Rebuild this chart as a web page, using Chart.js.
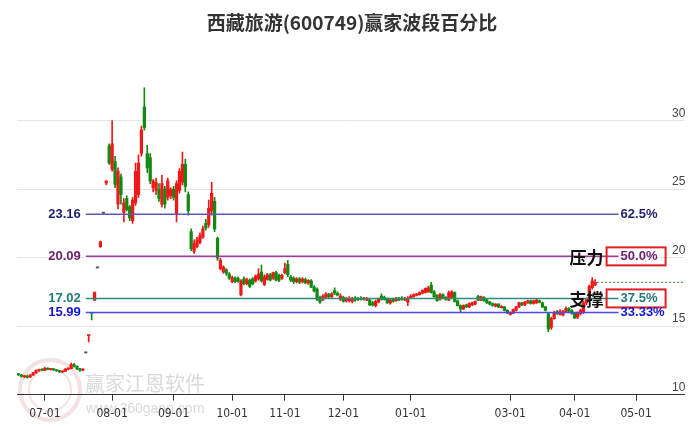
<!DOCTYPE html>
<html>
<head>
<meta charset="utf-8">
<script src="https://cdn.jsdelivr.net/npm/chart.js@4.4.1/dist/chart.umd.min.js"></script>
<style>
  html, body { margin: 0; padding: 0; background: #fff; }
  #wrap { width: 689px; height: 427px; }
</style>
</head>
<body>
<div id="wrap"><canvas id="chart" width="689" height="427"></canvas></div>
<script>
// daily candles (one per trading day)
const opens = [
  11.50, 11.42, 11.30, 11.36, 11.28, 11.42, 11.60, 11.76, 11.80, 11.78,
  11.92, 11.84, 11.86, 11.80, 11.74, 11.66, 11.70, 11.86, 11.90, 12.20,
  12.06, 11.88, 11.78, 13.05, 14.30, 15.98, 16.90, 19.25, 20.80, 23.25,
  25.45, 28.15, 26.45, 27.00, 23.90, 25.90, 23.30, 24.30, 23.70, 22.70,
  24.00, 24.60, 27.60, 31.00, 27.60, 27.30, 25.10, 24.90, 25.00, 23.90,
  25.00, 24.40, 24.50, 25.00, 23.20, 24.90, 25.50, 26.80, 24.60, 21.90,
  20.45, 20.80, 21.10, 21.50, 22.50, 22.40, 23.40, 24.10, 21.40, 19.20,
  18.95, 19.10, 18.80, 18.25, 18.50, 18.50, 17.30, 18.45, 18.10, 18.35,
  18.45, 18.30, 18.45, 18.95, 18.05, 18.40, 18.75, 18.50, 18.90, 18.70,
  18.50, 18.90, 19.50, 18.60, 18.50, 18.25, 18.45, 18.25, 18.40, 18.15,
  18.30, 17.85, 17.70, 17.10, 16.95, 17.10, 17.30, 17.15, 17.60, 17.40,
  16.95, 17.10, 16.85, 16.85, 16.80, 17.05, 17.00, 17.05, 16.95, 16.90,
  16.90, 16.70, 16.50, 16.75, 17.20, 17.10, 16.95, 16.70, 16.95, 16.85,
  17.05, 17.05, 16.90, 16.75, 17.05, 17.15, 17.25, 17.30, 17.40, 17.45,
  17.50, 18.00, 17.50, 17.25, 16.95, 17.30, 17.10, 16.90, 17.10, 17.45,
  16.85, 16.50, 16.25, 16.55, 16.40, 16.55, 16.60, 17.15, 16.90, 17.10,
  16.90, 16.75, 16.65, 16.45, 16.60, 16.35, 16.40, 16.15, 15.85, 15.95,
  16.15, 16.40, 16.70, 16.55, 16.70, 16.85, 16.65, 16.70, 16.85, 16.70,
  16.40, 15.90, 14.90, 15.55, 16.05, 15.85, 15.80, 16.05, 16.30, 16.15,
  15.95, 15.65, 15.90, 16.00, 16.70, 16.90, 17.80, 18.00
];
const highs = [
  11.55, 11.48, 11.40, 11.42, 11.46, 11.62, 11.80, 11.86, 11.90, 12.00,
  11.98, 11.90, 11.90, 11.84, 11.78, 11.72, 11.90, 11.96, 12.30, 12.28,
  12.10, 11.92, 11.90, 13.05, 14.35, 15.98, 17.50, 19.25, 21.20, 23.25,
  25.62, 28.30, 30.00, 27.40, 26.55, 26.10, 24.30, 24.50, 23.80, 24.40,
  26.90, 27.50, 29.60, 32.40, 28.20, 27.60, 25.70, 25.80, 25.40, 26.00,
  25.20, 25.80, 25.10, 25.20, 25.60, 26.50, 27.70, 27.20, 24.80, 22.10,
  21.30, 21.50, 21.80, 22.30, 22.80, 24.20, 25.50, 24.40, 21.50, 19.95,
  19.40, 19.20, 18.90, 18.65, 18.60, 18.60, 18.40, 18.60, 18.50, 18.45,
  18.55, 18.75, 19.20, 19.45, 18.75, 18.85, 18.85, 18.95, 19.00, 18.80,
  18.80, 19.60, 19.80, 18.70, 18.60, 18.55, 18.55, 18.55, 18.50, 18.40,
  18.40, 17.95, 17.80, 17.20, 17.30, 17.45, 17.40, 17.45, 17.80, 17.50,
  17.35, 17.20, 17.10, 17.15, 17.10, 17.15, 17.10, 17.15, 17.10, 17.10,
  17.00, 16.80, 16.90, 17.05, 17.35, 17.20, 17.05, 16.95, 17.05, 17.10,
  17.10, 17.15, 17.10, 17.15, 17.30, 17.35, 17.40, 17.50, 17.65, 17.80,
  17.90, 18.20, 17.60, 17.30, 17.40, 17.35, 17.15, 17.55, 17.60, 17.50,
  16.90, 16.55, 16.55, 16.60, 16.70, 16.75, 16.85, 17.25, 17.20, 17.15,
  16.95, 16.80, 16.70, 16.65, 16.65, 16.50, 16.45, 16.20, 16.05, 16.25,
  16.45, 16.75, 16.75, 16.80, 16.90, 16.90, 16.90, 16.95, 16.90, 16.75,
  16.45, 16.00, 15.65, 16.10, 16.15, 16.20, 16.15, 16.40, 16.35, 16.20,
  16.00, 16.05, 16.25, 16.80, 17.05, 18.00, 18.55, 18.40
];
const lows = [
  11.38, 11.28, 11.22, 11.20, 11.25, 11.40, 11.55, 11.70, 11.74, 11.75,
  11.80, 11.78, 11.76, 11.70, 11.62, 11.60, 11.68, 11.80, 11.88, 12.00,
  11.82, 11.70, 11.74, 13.05, 13.85, 15.45, 16.85, 19.25, 20.75, 23.25,
  25.30, 26.80, 26.30, 25.10, 23.55, 23.90, 22.60, 23.40, 22.70, 22.50,
  23.80, 24.40, 27.40, 29.30, 26.20, 25.40, 24.80, 24.60, 24.10, 23.70,
  23.60, 24.20, 24.30, 24.20, 22.60, 24.70, 25.30, 24.80, 23.10, 20.50,
  20.30, 20.70, 21.00, 21.40, 22.00, 22.20, 23.10, 21.90, 19.80, 19.10,
  18.85, 18.70, 18.40, 18.15, 18.15, 18.20, 17.20, 18.00, 18.00, 17.80,
  18.00, 18.20, 18.35, 18.20, 17.95, 18.35, 18.30, 18.40, 18.30, 18.25,
  18.40, 18.80, 18.60, 18.25, 18.10, 18.15, 18.10, 18.15, 18.10, 18.05,
  17.80, 17.50, 16.85, 16.65, 16.85, 17.00, 17.05, 17.05, 17.30, 17.20,
  16.85, 16.75, 16.75, 16.75, 16.70, 16.80, 16.85, 16.90, 16.90, 16.85,
  16.50, 16.45, 16.40, 16.70, 16.90, 16.90, 16.65, 16.60, 16.75, 16.80,
  16.85, 16.90, 16.85, 16.50, 17.00, 17.10, 17.20, 17.25, 17.35, 17.40,
  17.45, 17.40, 17.10, 16.80, 16.90, 17.00, 16.90, 16.85, 17.05, 16.75,
  16.45, 15.98, 16.20, 16.35, 16.35, 16.50, 16.55, 16.85, 16.85, 16.80,
  16.65, 16.55, 16.45, 16.40, 16.35, 16.30, 16.10, 15.90, 15.80, 15.90,
  16.10, 16.35, 16.50, 16.50, 16.65, 16.60, 16.60, 16.65, 16.70, 16.35,
  16.10, 14.60, 14.75, 15.50, 15.85, 15.80, 15.75, 16.00, 16.05, 15.85,
  15.55, 15.55, 15.80, 15.90, 16.55, 16.85, 17.70, 17.95
];
const closes = [
  11.45, 11.32, 11.36, 11.26, 11.42, 11.58, 11.76, 11.80, 11.78, 11.92,
  11.84, 11.86, 11.80, 11.74, 11.66, 11.70, 11.86, 11.90, 12.20, 12.06,
  11.88, 11.78, 11.86, 13.05, 14.35, 15.94, 17.45, 19.25, 21.15, 23.25,
  25.58, 26.90, 28.30, 25.35, 26.30, 24.60, 24.00, 23.50, 22.90, 24.20,
  26.30, 26.90, 29.30, 29.50, 26.55, 25.60, 25.60, 25.50, 24.30, 25.40,
  23.90, 25.60, 25.00, 24.40, 25.40, 26.30, 26.80, 25.20, 23.40, 20.65,
  21.05, 21.30, 21.60, 22.10, 22.15, 23.60, 24.70, 22.10, 19.95, 19.80,
  19.30, 18.85, 18.50, 18.55, 18.25, 18.25, 18.30, 18.10, 18.40, 17.90,
  18.10, 18.65, 18.80, 18.30, 18.60, 18.75, 18.35, 18.90, 18.35, 18.35,
  18.70, 19.20, 18.75, 18.35, 18.25, 18.45, 18.20, 18.45, 18.15, 18.35,
  17.85, 17.55, 16.95, 16.75, 17.20, 17.35, 17.15, 17.35, 17.40, 17.25,
  17.20, 16.80, 17.00, 17.05, 17.00, 16.90, 16.95, 16.95, 17.05, 17.00,
  16.55, 16.55, 16.80, 16.95, 16.95, 16.95, 16.70, 16.90, 16.80, 17.05,
  16.90, 16.95, 17.00, 17.05, 17.20, 17.30, 17.35, 17.45, 17.60, 17.75,
  17.80, 17.45, 17.15, 16.85, 17.30, 17.05, 16.95, 17.45, 17.50, 16.80,
  16.50, 16.25, 16.50, 16.40, 16.65, 16.70, 16.80, 16.90, 17.15, 16.85,
  16.70, 16.60, 16.50, 16.60, 16.40, 16.45, 16.15, 15.95, 16.00, 16.20,
  16.40, 16.70, 16.55, 16.75, 16.85, 16.65, 16.85, 16.90, 16.75, 16.40,
  16.15, 14.80, 15.55, 16.00, 15.90, 16.10, 16.05, 16.30, 16.10, 15.95,
  15.60, 15.95, 16.15, 16.70, 16.95, 17.90, 18.30, 18.20
];

// month ticks on the date axis (slot index of the first trading day)
const monthLabels = ['07-01', '08-01', '09-01', '10-01', '11-01', '12-01', '01-01', '03-01', '04-01', '05-01'];
const monthIdx = [9, 32, 53, 73, 91, 111, 134, 168, 190, 211];
const slotCount = 228;

// wave levels
const levelPrices = [23.16, 20.09, 17.02, 15.99];
const levelPcts = ['62.5%', '50.0%', '37.5%', '33.33%'];
const levelTags = ['', '压力', '支撑', ''];
const levelStartIdx = 23;
const levelEndIdx = 205;

const title = '西藏旅游(600749)赢家波段百分比';

const lineColors = ['#5b5bb0', '#a03ca0', '#2e8b74', '#4a4ae6'];
const textColors = ['#1f1f70', '#6e226e', '#1f7a78', '#1414d8'];
const boxed = [false, true, true, false];

const UP = '#f01818', DOWN = '#128a12', FLAT = '#555555';

const xLabels = Array.from({ length: slotCount }, (_, i) => {
  const k = monthIdx.indexOf(i);
  return k >= 0 ? monthLabels[k] : '';
});
const candleColors = opens.map((o, i) => closes[i] > o ? UP : (closes[i] < o ? DOWN : FLAT));
const bodies = opens.map((o, i) => [o, closes[i]]);
const wicks = lows.map((l, i) => [l, highs[i]]);

const wavePlugin = {
  id: 'wave',
  beforeDraw(chart) {
    const ctx = chart.ctx;
    ctx.save();
    // watermark
    ctx.strokeStyle = 'rgba(210,120,120,0.22)';
    ctx.lineWidth = 4;
    ctx.beginPath(); ctx.arc(50, 390, 30, 0, Math.PI * 2); ctx.stroke();
    ctx.lineWidth = 2;
    ctx.beginPath(); ctx.arc(50, 390, 21, 0, Math.PI * 2); ctx.stroke();
    ctx.fillStyle = 'rgba(170,170,170,0.45)';
    ctx.font = '20px "Noto Sans CJK SC"';
    ctx.textBaseline = 'middle';
    ctx.fillText('赢家江恩软件', 85, 383);
    ctx.font = '14px "Liberation Sans", Arial';
    ctx.fillText('www.360gann.com', 86, 409);
    ctx.restore();
  },
  afterDatasetsDraw(chart) {
    const ctx = chart.ctx;
    const xs = chart.scales.x, ys = chart.scales.y;
    const area = chart.chartArea;
    const x1 = xs.getPixelForValue(levelStartIdx);
    const x2 = xs.getPixelForValue(levelEndIdx);
    ctx.save();
    levelPrices.forEach((p, i) => {
      const y = ys.getPixelForValue(p);
      ctx.strokeStyle = lineColors[i];
      ctx.lineWidth = 1.5;
      ctx.beginPath(); ctx.moveTo(x1, y); ctx.lineTo(x2, y); ctx.stroke();
      ctx.font = 'bold 13px "Liberation Sans", Arial';
      ctx.textBaseline = 'middle';
      ctx.fillStyle = textColors[i];
      ctx.textAlign = 'right';
      ctx.fillText(p.toFixed(2), x1 - 5, y);
      ctx.textAlign = 'left';
      ctx.fillText(levelPcts[i], x2 + 2, y);
      if (boxed[i]) {
        ctx.strokeStyle = '#e02020';
        ctx.lineWidth = 2;
        ctx.strokeRect(x2 - 12, y - 9, 59, 18);
      }
      if (levelTags[i]) {
        ctx.fillStyle = '#111';
        ctx.font = 'bold 17px "Noto Sans CJK SC"';
        ctx.textAlign = 'right';
        ctx.fillText(levelTags[i], x2 - 15, y + 1);
      }
    });
    // last close dashed line
    const last = closes.length - 1;
    const yc = ys.getPixelForValue(closes[last]);
    ctx.strokeStyle = '#2a7a2a';
    ctx.lineWidth = 1;
    ctx.setLineDash([2, 2]);
    ctx.beginPath(); ctx.moveTo(xs.getPixelForValue(last) + 2, yc); ctx.lineTo(area.right, yc); ctx.stroke();
    ctx.restore();
  }
};

new Chart(document.getElementById('chart'), {
  type: 'bar',
  data: {
    labels: xLabels,
    datasets: [
      { label: 'body', data: bodies, backgroundColor: candleColors, barThickness: 2.6, minBarLength: 1, grouped: false, borderWidth: 0 },
      { label: 'wick', data: wicks, backgroundColor: candleColors, barThickness: 1, grouped: false, borderWidth: 0 }
    ]
  },
  options: {
    responsive: false,
    animation: false,
    devicePixelRatio: 1,
    layout: { padding: { left: 17, right: 2, top: 0, bottom: 0 } },
    plugins: {
      legend: { display: false },
      tooltip: { enabled: false },
      title: {
        display: true,
        text: title,
        color: '#333',
        font: { size: 19, weight: 'bold', family: '"Noto Sans CJK SC"' },
        padding: { top: 11, bottom: 32 }
      }
    },
    scales: {
      x: {
        grid: {
          display: true,
          drawOnChartArea: false,
          offset: false,
          tickLength: 6,
          color: ctx => (ctx.tick && ctx.tick.label) ? '#333' : 'rgba(0,0,0,0)'
        },
        border: { display: true, color: '#333', width: 1 },
        ticks: {
          autoSkip: false, maxRotation: 0, minRotation: 0, padding: 6,
          color: '#333',
          font: { size: 12, family: '"Liberation Sans Narrow", "DejaVu Sans Condensed", Arial' }
        }
      },
      y: {
        position: 'right',
        min: 10,
        max: 34,
        afterFit: s => { s.width = 0; },
        grid: { color: '#e4e4e4', drawTicks: false },
        border: { display: false },
        ticks: {
          stepSize: 5, includeBounds: false, mirror: true, padding: 1, labelOffset: -7,
          color: '#444',
          font: { size: 12, family: '"Liberation Sans", Arial' }
        }
      }
    }
  },
  plugins: [wavePlugin]
});
</script>
</body>
</html>
